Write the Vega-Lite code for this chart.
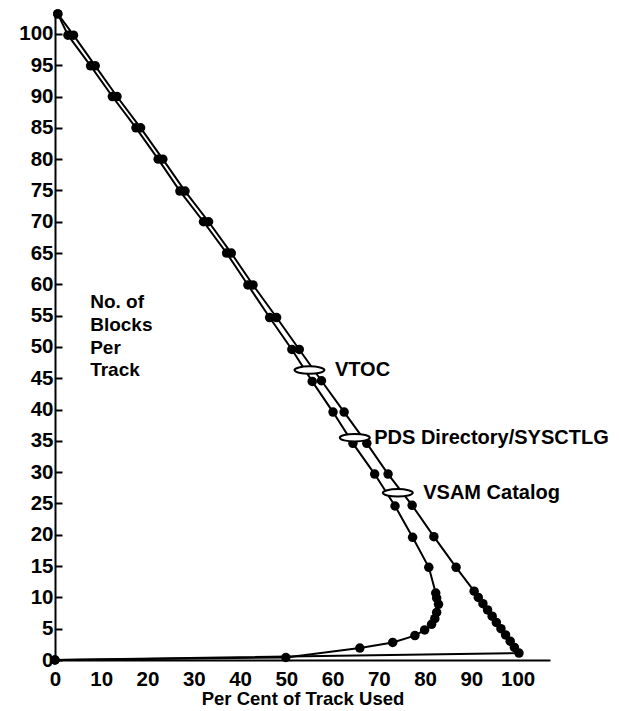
{
  "$schema": "https://vega.github.io/schema/vega-lite/v6.json",
  "autosize": "none",
  "width": 495,
  "height": 648,
  "padding": {"left": 55, "top": 12, "right": 69, "bottom": 51},
  "background": "white",
  "config": {
    "view": {"stroke": null},
    "font": "Liberation Sans",
    "axis": {
      "domainColor": "black",
      "domainWidth": 2,
      "tickColor": "black",
      "labelColor": "black",
      "titleColor": "black",
      "labelFont": "Liberation Sans",
      "titleFont": "Liberation Sans",
      "labelFontSize": 20.5,
      "labelFontWeight": "bold",
      "titleFontSize": 18.5,
      "titleFontWeight": "bold",
      "grid": false
    }
  },
  "datasets": {
    "curves": [
      {"curve": "outer", "n": 0, "pct": 0, "blocks": 0},
      {"curve": "outer", "n": 1, "pct": 100.3, "blocks": 1.1},
      {"curve": "outer", "n": 2, "pct": 99.3, "blocks": 2.0},
      {"curve": "outer", "n": 3, "pct": 98.4, "blocks": 3.0},
      {"curve": "outer", "n": 4, "pct": 97.4, "blocks": 4.0},
      {"curve": "outer", "n": 5, "pct": 96.4, "blocks": 5.0},
      {"curve": "outer", "n": 6, "pct": 95.4, "blocks": 6.0},
      {"curve": "outer", "n": 7, "pct": 94.5, "blocks": 7.0},
      {"curve": "outer", "n": 8, "pct": 93.5, "blocks": 8.0},
      {"curve": "outer", "n": 9, "pct": 92.5, "blocks": 9.0},
      {"curve": "outer", "n": 10, "pct": 91.5, "blocks": 10.0},
      {"curve": "outer", "n": 11, "pct": 90.6, "blocks": 11.0},
      {"curve": "outer", "n": 15, "pct": 86.7, "blocks": 14.8},
      {"curve": "outer", "n": 20, "pct": 81.9, "blocks": 19.7},
      {"curve": "outer", "n": 25, "pct": 77.2, "blocks": 24.7},
      {"curve": "outer", "n": 30, "pct": 72.0, "blocks": 29.7},
      {"curve": "outer", "n": 35, "pct": 67.4, "blocks": 34.6},
      {"curve": "outer", "n": 40, "pct": 62.5, "blocks": 39.6},
      {"curve": "outer", "n": 45, "pct": 57.6, "blocks": 44.6},
      {"curve": "outer", "n": 50, "pct": 52.8, "blocks": 49.6},
      {"curve": "outer", "n": 55, "pct": 47.9, "blocks": 54.7},
      {"curve": "outer", "n": 60, "pct": 42.8, "blocks": 59.9},
      {"curve": "outer", "n": 65, "pct": 38.1, "blocks": 65.0},
      {"curve": "outer", "n": 70, "pct": 33.2, "blocks": 70.0},
      {"curve": "outer", "n": 75, "pct": 28.1, "blocks": 74.9},
      {"curve": "outer", "n": 80, "pct": 23.3, "blocks": 80.0},
      {"curve": "outer", "n": 85, "pct": 18.5, "blocks": 85.0},
      {"curve": "outer", "n": 90, "pct": 13.4, "blocks": 90.0},
      {"curve": "outer", "n": 95, "pct": 8.7, "blocks": 94.9},
      {"curve": "outer", "n": 100, "pct": 4.0, "blocks": 99.8},
      {"curve": "outer", "n": 103, "pct": 0.6, "blocks": 103.2},
      {"curve": "inner", "n": 0, "pct": 0, "blocks": 0},
      {"curve": "inner", "n": 1, "pct": 49.9, "blocks": 0.4},
      {"curve": "inner", "n": 2, "pct": 65.9, "blocks": 1.9},
      {"curve": "inner", "n": 3, "pct": 73.0, "blocks": 2.8},
      {"curve": "inner", "n": 4, "pct": 77.8, "blocks": 3.9},
      {"curve": "inner", "n": 5, "pct": 79.9, "blocks": 4.8},
      {"curve": "inner", "n": 6, "pct": 81.4, "blocks": 5.7},
      {"curve": "inner", "n": 7, "pct": 82.1, "blocks": 6.6},
      {"curve": "inner", "n": 8, "pct": 82.5, "blocks": 7.6},
      {"curve": "inner", "n": 9, "pct": 82.9, "blocks": 8.9},
      {"curve": "inner", "n": 10, "pct": 82.5, "blocks": 9.9},
      {"curve": "inner", "n": 11, "pct": 82.3, "blocks": 10.7},
      {"curve": "inner", "n": 15, "pct": 80.8, "blocks": 14.8},
      {"curve": "inner", "n": 20, "pct": 77.3, "blocks": 19.6},
      {"curve": "inner", "n": 25, "pct": 73.5, "blocks": 24.6},
      {"curve": "inner", "n": 30, "pct": 69.1, "blocks": 29.7},
      {"curve": "inner", "n": 35, "pct": 64.4, "blocks": 34.6},
      {"curve": "inner", "n": 40, "pct": 60.1, "blocks": 39.6},
      {"curve": "inner", "n": 45, "pct": 55.6, "blocks": 44.5},
      {"curve": "inner", "n": 50, "pct": 51.2, "blocks": 49.6},
      {"curve": "inner", "n": 55, "pct": 46.4, "blocks": 54.7},
      {"curve": "inner", "n": 60, "pct": 41.7, "blocks": 59.9},
      {"curve": "inner", "n": 65, "pct": 37.1, "blocks": 65.0},
      {"curve": "inner", "n": 70, "pct": 32.1, "blocks": 70.0},
      {"curve": "inner", "n": 75, "pct": 27.0, "blocks": 74.9},
      {"curve": "inner", "n": 80, "pct": 22.3, "blocks": 80.0},
      {"curve": "inner", "n": 85, "pct": 17.5, "blocks": 85.0},
      {"curve": "inner", "n": 90, "pct": 12.4, "blocks": 90.0},
      {"curve": "inner", "n": 95, "pct": 7.7, "blocks": 94.9},
      {"curve": "inner", "n": 100, "pct": 2.8, "blocks": 99.8},
      {"curve": "inner", "n": 103, "pct": 0.6, "blocks": 103.2}
    ],
    "markers": [
      {"label": "VTOC", "pct": 55.0, "blocks": 46.3, "labelPct": 60.5},
      {"label": "PDS Directory/SYSCTLG", "pct": 64.8, "blocks": 35.5, "labelPct": 69.0},
      {"label": "VSAM Catalog", "pct": 74.1, "blocks": 26.7, "labelPct": 79.6}
    ],
    "ytitle": [
      {"text": "No. of", "pct": 7.6, "blocks": 57.2},
      {"text": "Blocks", "pct": 7.6, "blocks": 53.5},
      {"text": "Per", "pct": 7.6, "blocks": 49.8},
      {"text": "Track", "pct": 7.6, "blocks": 46.3}
    ]
  },
  "layer": [
    {
      "data": {"name": "curves"},
      "mark": {"type": "line", "color": "black", "strokeWidth": 2},
      "encoding": {
        "x": {
          "field": "pct", "type": "quantitative",
          "scale": {"domain": [0, 107], "nice": false, "zero": false},
          "axis": {
            "values": [0, 10, 20, 30, 40, 50, 60, 70, 80, 90, 100],
            "ticks": false,
            "labelPadding": 9,
            "titlePadding": 0,
            "title": "Per Cent of Track Used",
            "labelFlush": false,
            "labelOverlap": false
          }
        },
        "y": {
          "field": "blocks", "type": "quantitative",
          "scale": {"domain": [0, 103.5], "nice": false, "zero": false},
          "axis": {
            "values": [0, 5, 10, 15, 20, 25, 30, 35, 40, 45, 50, 55, 60, 65, 70, 75, 80, 85, 90, 95, 100],
            "ticks": true,
            "tickCount": 21,
            "tickSize": -7,
            "tickWidth": 2,
            "labelPadding": 9,
            "labelOverlap": false,
            "labelBound": false,
            "title": null,
            "labelFlush": false
          }
        },
        "detail": {"field": "curve"},
        "order": {"field": "n", "type": "quantitative"}
      }
    },
    {
      "data": {"name": "curves"},
      "mark": {"type": "point", "filled": true, "color": "black", "opacity": 1, "size": 90},
      "encoding": {
        "x": {"field": "pct", "type": "quantitative"},
        "y": {"field": "blocks", "type": "quantitative"}
      }
    },
    {
      "data": {"name": "markers"},
      "mark": {
        "type": "point",
        "shape": "M -1 0 C -1 -0.138 -0.5523 -0.25 0 -0.25 C 0.5523 -0.25 1 -0.138 1 0 C 1 0.138 0.5523 0.25 0 0.25 C -0.5523 0.25 -1 0.138 -1 0 Z",
        "size": 900,
        "filled": false,
        "fill": "white",
        "fillOpacity": 1,
        "stroke": "black",
        "strokeWidth": 2,
        "opacity": 1
      },
      "encoding": {
        "x": {"field": "pct", "type": "quantitative"},
        "y": {"field": "blocks", "type": "quantitative"}
      }
    },
    {
      "data": {"name": "markers"},
      "mark": {"type": "text", "align": "left", "baseline": "middle", "fontSize": 20, "fontWeight": "bold", "color": "black", "font": "Liberation Sans"},
      "encoding": {
        "x": {"field": "labelPct", "type": "quantitative"},
        "y": {"field": "blocks", "type": "quantitative"},
        "text": {"field": "label"}
      }
    },
    {
      "data": {"name": "ytitle"},
      "mark": {"type": "text", "align": "left", "baseline": "middle", "fontSize": 19, "fontWeight": "bold", "color": "black", "font": "Liberation Sans"},
      "encoding": {
        "x": {"field": "pct", "type": "quantitative"},
        "y": {"field": "blocks", "type": "quantitative"},
        "text": {"field": "text"}
      }
    }
  ]
}
